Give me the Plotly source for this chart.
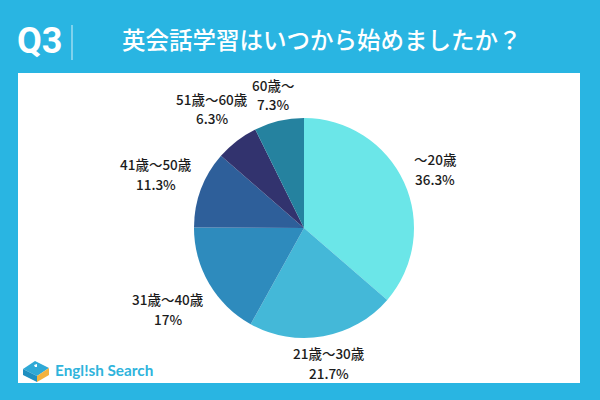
import plotly.graph_objects as go

categories = ["～20歳", "21歳～30歳", "31歳～40歳", "41歳～50歳", "51歳～60歳", "60歳～"]
values = [36.3, 21.7, 17, 11.3, 6.3, 7.3]
colors = ["#6BE6E8", "#44B8D8", "#2E8BBD", "#2E5F9A", "#32336E", "#25829F"]
label_x = [435, 329, 168, 156, 212, 273]
label_y1 = [159, 353, 299, 164, 99, 85]
label_y2 = [179, 373, 319, 184, 118, 104]
title = "英会話学習はいつから始めましたか？"
W, H = 600, 400
BG = "#29B5E2"
CJK = "Noto Sans CJK JP"

fig = go.Figure(go.Pie(
    values=values, labels=categories, sort=False, direction="clockwise", rotation=0,
    marker=dict(colors=colors, line=dict(width=0)), textinfo="none", hoverinfo="label+percent",
    domain=dict(x=[194 / W, 414 / W], y=[1 - 338 / H, 1 - 118 / H]), showlegend=False,
))

def text(x, y, s, family=CJK, size=13.5, color="#1c1c1c", anchor="center", weight=500):
    return dict(x=x / W, y=1 - y / H, xref="paper", yref="paper", text=s, showarrow=False,
                font=dict(family=family, size=size, color=color, weight=weight),
                xanchor=anchor, yanchor="middle")

ann = []
for c, v, x, y1, y2 in zip(categories, values, label_x, label_y1, label_y2):
    ann.append(text(x, y1, c))
    ann.append(text(x, y2, f"{v}%"))
ann.append(text(39.5, 41, "Q3", family="Roboto", size=36, color="white", weight=700))
ann.append(text(120, 39, title, size=23.5, color="white", anchor="left"))
ann.append(text(53, 370, "Engl!sh Search", family="Lato", size=15.3, color="#2FB4DC", anchor="left", weight=700))

def rect(x0, y0, x1, y1, color):
    return dict(type="rect", xref="paper", yref="paper", x0=x0 / W, x1=x1 / W, y0=1 - y0 / H, y1=1 - y1 / H,
                layer="below", fillcolor=color, line=dict(width=0))

def poly(pts, color):
    p = "M" + " L".join(f"{x / W},{1 - y / H}" for x, y in pts) + " Z"
    return dict(type="path", xref="paper", yref="paper", path=p, fillcolor=color, line=dict(width=0), layer="above")

shapes = [
    rect(18, 73, 580, 383, "white"),
    rect(71.5, 25, 72.5, 60, "#D5EFF8"),
    poly([(23, 369), (35, 361), (49, 368), (37, 376)], "#2FA9D6"),
    poly([(23, 369), (37, 376), (37, 382), (23, 375)], "#1F8FC0"),
    poly([(37, 376), (49, 368), (49, 375), (37, 382)], "#F4B23E"),
    poly([(34, 365), (37, 364), (37, 367), (35, 367)], "white"),
]

fig.update_layout(width=W, height=H, margin=dict(l=0, r=0, t=0, b=0), paper_bgcolor=BG, autosize=False,
                  annotations=ann, shapes=shapes)
fig.write_html("out.html", config=dict(displayModeBar=False), post_script="document.body.style.margin='0';")
